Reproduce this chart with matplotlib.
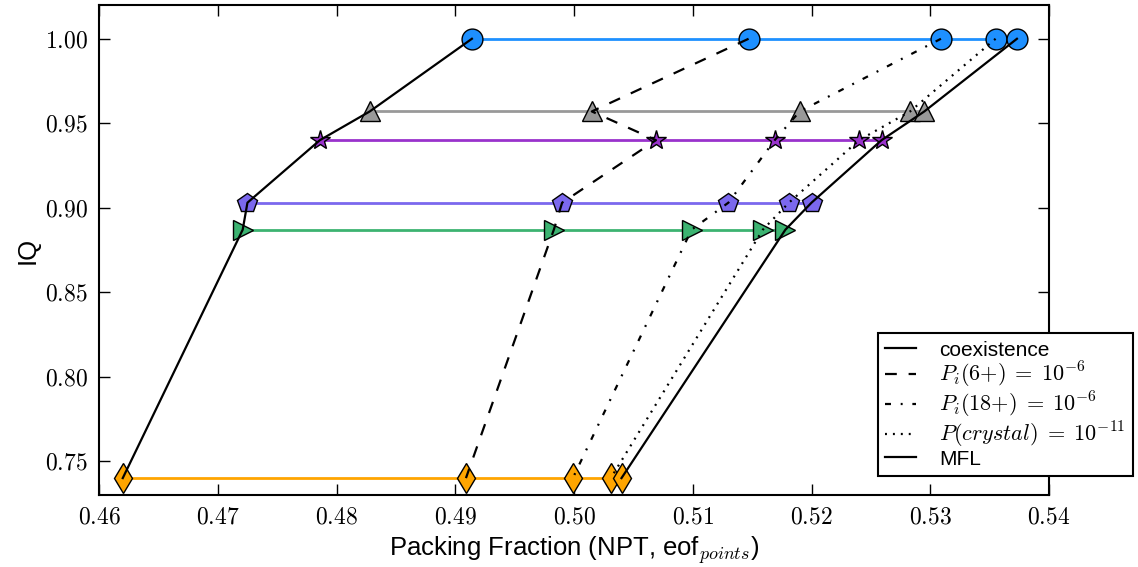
import matplotlib
matplotlib.use('Agg')
import matplotlib.pyplot as plt
from matplotlib.ticker import FuncFormatter

plt.rcParams['font.family'] = ['Liberation Sans', 'DejaVu Sans']
plt.rcParams['mathtext.fontset'] = 'cm'
plt.rcParams['lines.scale_dashes'] = False

# IQ levels and the packing fractions at each level
iq = [1.00, 0.957, 0.940, 0.903, 0.887, 0.74]
coexistence = [0.4914, 0.4828, 0.4786, 0.4725, 0.4721, 0.4620]
pi6 = [0.5147, 0.5015, 0.5069, 0.4990, 0.4983, 0.4909]
pi18 = [0.5309, 0.5190, 0.5169, 0.5130, 0.5099, 0.4999]
pcrystal = [0.5355, 0.5283, 0.5240, 0.5181, 0.5159, 0.5031]
mfl = [0.5373, 0.5295, 0.5259, 0.5200, 0.5178, 0.5040]

level_colors = ['#1E90FF', '#999999', '#9932CC', '#7B68EE', '#3CB371', '#FFA500']
level_markers = ['o', '^', '*', 'p', '>', 'd']

fig = plt.figure(figsize=(11.38, 5.67), dpi=100)
ax = fig.add_axes([0.087, 0.127, 0.8348, 0.8642])

# horizontal line per IQ level with its markers
for i in range(len(iq)):
    xs = [coexistence[i], pi6[i], pi18[i], pcrystal[i], mfl[i]]
    ax.plot(xs, [iq[i]] * len(xs), color=level_colors[i], lw=2,
            marker=level_markers[i], ms=15, mfc=level_colors[i],
            mec='black', mew=1, zorder=2)

# boundary lines across the levels
ax.plot(coexistence, iq, color='black', lw=1.6, ls='-', label='coexistence', zorder=3)
ax.plot(pi6, iq, color='black', lw=1.6, ls=(0, (8.5, 8.5)),
        label=r'$P_i(6{+})\;=\;10^{-6}$', zorder=3)
ax.plot(pi18, iq, color='black', lw=1.6, ls=(0, (4.3, 7, 1.4, 7)),
        label=r'$P_i(18{+})\;=\;10^{-6}$', zorder=3)
ax.plot(pcrystal, iq, color='black', lw=1.6, ls=(0, (1.4, 4.3)),
        label=r'$P(crystal)\;=\;10^{-11}$', zorder=3)
ax.plot(mfl, iq, color='black', lw=1.6, ls='-', label='MFL', zorder=3)

ax.set_xlim(0.46, 0.54)
ax.set_ylim(0.73, 1.02)
ax.set_xticks([0.46, 0.47, 0.48, 0.49, 0.50, 0.51, 0.52, 0.53, 0.54])
ax.set_yticks([0.75, 0.80, 0.85, 0.90, 0.95, 1.00])
ax.xaxis.set_major_formatter(FuncFormatter(lambda v, p: r'$%.2f$' % v))
ax.yaxis.set_major_formatter(FuncFormatter(lambda v, p: r'$%.2f$' % v))
ax.tick_params(direction='in', length=8, width=1, labelsize=17, top=True, right=True, pad=8)
for s in ax.spines.values():
    s.set_linewidth(1.5)

ax.set_xlabel(r'Packing Fraction (NPT, eof$_{points}$)', fontsize=18.5)
ax.set_ylabel('IQ', fontsize=18.5)

leg = ax.legend(loc='lower right', bbox_to_anchor=(0.9956, 0.1605),
                bbox_transform=fig.transFigure, borderaxespad=0, fontsize=15,
                handlelength=1.5, handletextpad=1.1, borderpad=0.35,
                labelspacing=0.0, fancybox=False, framealpha=1)
leg.get_frame().set_edgecolor('black')
leg.get_frame().set_linewidth(1.5)
for t in leg.get_texts()[1:4]:
    t.set_fontsize(16)

fig.savefig('out.png', dpi=100)
